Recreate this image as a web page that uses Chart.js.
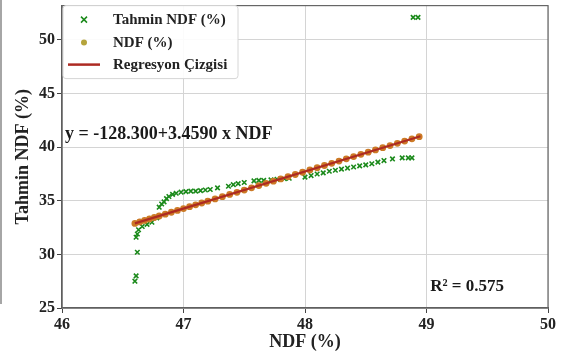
<!DOCTYPE html>
<html>
<head>
<meta charset="utf-8">
<script src="https://cdn.jsdelivr.net/npm/chart.js@4.4.0/dist/chart.umd.min.js"></script>
<style>
  html, body { margin: 0; padding: 0; background: #fff; }
  #wrap { width: 569px; height: 358px; }
</style>
</head>
<body>
<div id="wrap"><canvas id="chart" width="569" height="358"></canvas></div>
<script>
// values
const tahminNdf = [
  [46.60, 27.5], [46.61, 28.0], [46.62, 30.2], [46.61, 31.6], [46.62, 31.9], [46.63, 32.3],
  [46.66, 32.6], [46.70, 32.8], [46.74, 33.0], [46.78, 33.4], [46.80, 34.4], [46.82, 34.7],
  [46.84, 34.9], [46.86, 35.2], [46.88, 35.4], [46.91, 35.6], [46.94, 35.7], [46.98, 35.8],
  [47.02, 35.85], [47.06, 35.9], [47.10, 35.9], [47.14, 35.95], [47.18, 36.0], [47.22, 36.05],
  [47.28, 36.2], [47.37, 36.35], [47.41, 36.5], [47.45, 36.6], [47.50, 36.7], [47.58, 36.85],
  [47.62, 36.9], [47.66, 36.9], [47.72, 36.95], [47.77, 37.0], [47.83, 37.05], [47.87, 37.1],
  [48.00, 37.2], [48.05, 37.35], [48.10, 37.5], [48.15, 37.6], [48.20, 37.75], [48.25, 37.85],
  [48.30, 37.95], [48.35, 38.05], [48.40, 38.15], [48.45, 38.25], [48.50, 38.35], [48.55, 38.45],
  [48.60, 38.6], [48.65, 38.75], [48.72, 38.9], [48.80, 39.0], [48.85, 39.0], [48.88, 39.0],
  [48.89, 52.1], [48.93, 52.1]
];
const ndfPoints = [
  [46.60, 32.89], [46.64, 33.03], [46.68, 33.17], [46.72, 33.30], [46.76, 33.44], [46.80, 33.58],
  [46.85, 33.75], [46.90, 33.93], [46.95, 34.10], [47.00, 34.27], [47.05, 34.45], [47.10, 34.62],
  [47.15, 34.79], [47.20, 34.96], [47.26, 35.17], [47.32, 35.38], [47.38, 35.59], [47.44, 35.79],
  [47.50, 36.00], [47.56, 36.21], [47.62, 36.42], [47.68, 36.63], [47.74, 36.83], [47.80, 37.04],
  [47.86, 37.25], [47.92, 37.45], [47.98, 37.66], [48.04, 37.87], [48.10, 38.08], [48.16, 38.29],
  [48.22, 38.49], [48.28, 38.70], [48.34, 38.91], [48.40, 39.12], [48.46, 39.33], [48.52, 39.53],
  [48.58, 39.74], [48.64, 39.95], [48.70, 40.15], [48.76, 40.36], [48.82, 40.57], [48.88, 40.78],
  [48.94, 40.98]
];
const regLine = [[46.60, 32.89], [48.95, 41.02]];
const seriesNames = ['Tahmin NDF (%)', 'NDF (%)', 'Regresyon Çizgisi'];
const xTicks = [46, 47, 48, 49, 50];
const yTicks = [25, 30, 35, 40, 45, 50];
const eqText = 'y = -128.300+3.4590 x NDF';
const r2Text = 'R² = 0.575';

const SERIF = "'Liberation Serif', 'DejaVu Serif', serif";
const toXY = arr => arr.map(p => ({ x: p[0], y: p[1] }));
const legendDot = '#b5a43c';

// frame, legend box and the two text notes
const extras = {
  id: 'extras',
  afterDraw(chart) {
    const { ctx, chartArea: a, scales } = chart;
    ctx.save();
    ctx.strokeStyle = '#666';
    ctx.lineWidth = 1.2;
    ctx.strokeRect(a.left, a.top, a.right - a.left, a.bottom - a.top);
    // faint page edge at far left
    ctx.strokeStyle = '#888';
    ctx.lineWidth = 1.5;
    ctx.beginPath(); ctx.moveTo(1, 0); ctx.lineTo(1, 304); ctx.stroke();

    // legend
    const lx = a.left + 1, ly = a.top, lw = 175, lh = 73;
    ctx.fillStyle = 'rgba(255,255,255,0.9)';
    ctx.strokeStyle = '#d6d6d6';
    ctx.lineWidth = 1;
    ctx.beginPath();
    ctx.roundRect(lx, ly, lw, lh, 3);
    ctx.fill(); ctx.stroke();
    const rows = [ly + 14, ly + 37, ly + 59];
    const mx = lx + 21;
    chart.data.datasets.forEach((ds, i) => {
      const y = rows[i];
      if (ds.showLine) {
        ctx.strokeStyle = ds.borderColor;
        ctx.lineWidth = 2.5;
        ctx.beginPath(); ctx.moveTo(lx + 5, y); ctx.lineTo(lx + 37, y); ctx.stroke();
      } else if (ds.pointStyle === 'crossRot') {
        ctx.strokeStyle = ds.borderColor;
        ctx.lineWidth = 1.5;
        ctx.beginPath();
        ctx.moveTo(mx - 3, y - 3); ctx.lineTo(mx + 3, y + 3);
        ctx.moveTo(mx + 3, y - 3); ctx.lineTo(mx - 3, y + 3);
        ctx.stroke();
      } else {
        ctx.fillStyle = legendDot;
        ctx.beginPath(); ctx.arc(mx, y, 3, 0, Math.PI * 2); ctx.fill();
      }
      ctx.fillStyle = '#222';
      ctx.font = 'bold 15px ' + SERIF;
      ctx.textBaseline = 'middle';
      ctx.textAlign = 'left';
      ctx.fillText(ds.label, lx + 50, y + 1);
    });

    // text notes anchored in data coordinates
    ctx.fillStyle = '#1a1a1a';
    ctx.textBaseline = 'middle';
    ctx.font = 'bold 18px ' + SERIF;
    ctx.fillText(eqText, scales.x.getPixelForValue(46.025), scales.y.getPixelForValue(41.2));
    ctx.font = 'bold 17px ' + SERIF;
    ctx.fillText(r2Text, scales.x.getPixelForValue(49.03), scales.y.getPixelForValue(27.0));
    ctx.restore();
  }
};

new Chart(document.getElementById('chart').getContext('2d'), {
  type: 'scatter',
  data: {
    datasets: [
      {
        label: seriesNames[0],
        data: toXY(tahminNdf),
        pointStyle: 'crossRot',
        pointRadius: 3.2,
        borderColor: '#1b8a1b',
        backgroundColor: '#1b8a1b',
        borderWidth: 1.6,
        order: 2
      },
      {
        label: seriesNames[1],
        data: toXY(ndfPoints),
        pointStyle: 'circle',
        pointRadius: 3.4,
        borderWidth: 0,
        backgroundColor: '#cc7a26',
        borderColor: '#cc7a26',
        order: 1
      },
      {
        label: seriesNames[2],
        data: toXY(regLine),
        showLine: true,
        pointRadius: 0,
        borderColor: '#ad2a22',
        backgroundColor: '#ad2a22',
        borderWidth: 2.2,
        order: 0
      }
    ]
  },
  options: {
    responsive: false,
    animation: false,
    layout: { padding: { left: 0, right: 21, top: 2, bottom: 0 } },
    plugins: { legend: { display: false }, tooltip: { enabled: false } },
    scales: {
      x: {
        type: 'linear',
        min: 46, max: 50,
        afterBuildTicks: s => { s.ticks = xTicks.map(v => ({ value: v })); },
        afterFit: s => { s.height = 50; s.paddingLeft = 0; s.paddingRight = 0; },
        grid: { color: '#d4d4d4', lineWidth: 1, tickLength: 5, tickColor: '#444' },
        border: { color: '#555', width: 1.2 },
        ticks: { color: '#222', padding: 2, font: { family: SERIF, size: 16, weight: 'bold' } },
        title: {
          display: true, text: 'NDF (%)', color: '#222',
          padding: { top: 0, bottom: 5 },
          font: { family: SERIF, size: 18, weight: 'bold' }
        }
      },
      y: {
        type: 'linear',
        min: 25, max: 53.2,
        afterBuildTicks: s => { s.ticks = yTicks.map(v => ({ value: v })); },
        afterFit: s => { s.width = 62; s.paddingTop = 0; s.paddingBottom = 0; },
        grid: { color: '#d4d4d4', lineWidth: 1, tickLength: 5, tickColor: '#444' },
        border: { color: '#555', width: 1.2 },
        ticks: { color: '#222', padding: 2, font: { family: SERIF, size: 16, weight: 'bold' } },
        title: {
          display: true, text: 'Tahmin NDF (%)', color: '#222',
          padding: { top: 13, bottom: 0 },
          font: { family: SERIF, size: 18, weight: 'bold' }
        }
      }
    }
  },
  plugins: [extras]
});
</script>
</body>
</html>
